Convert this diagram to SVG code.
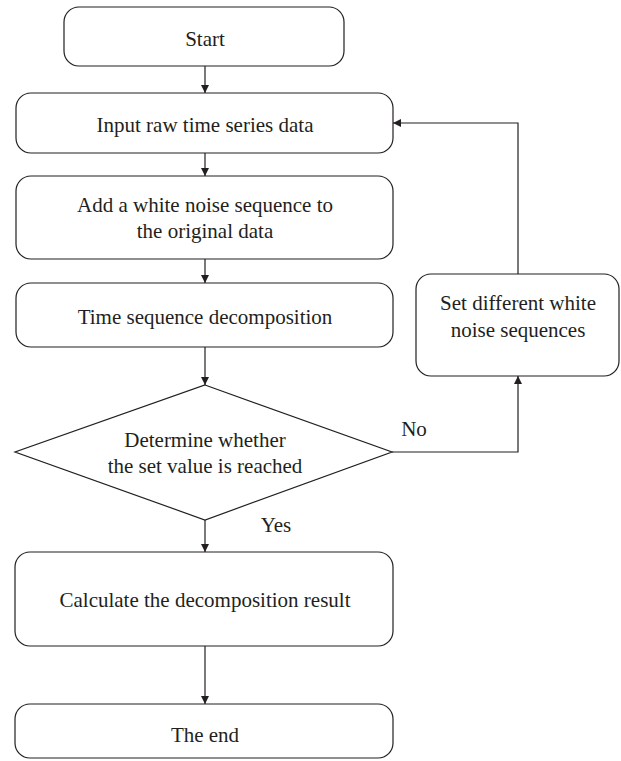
<svg xmlns="http://www.w3.org/2000/svg" width="621" height="761" viewBox="0 0 621 761">
<style>
.n{fill:#fff;stroke:#231f20;stroke-width:1.2}
.t{font-family:"Liberation Serif","Times New Roman",serif;font-size:21px;fill:#231f20;text-anchor:middle}
.c{fill:none;stroke:#231f20;stroke-width:1.2}
</style>
<defs>
<marker id="a" markerWidth="10" markerHeight="10" refX="8" refY="4" orient="auto" markerUnits="userSpaceOnUse">
<path d="M0,0 L8,4 L0,8 Z" fill="#231f20"/>
</marker>
</defs>
<rect width="621" height="761" fill="#fff"/>
<g id="connectors">
<line class="c" x1="205" y1="66" x2="205" y2="93" marker-end="url(#a)"/>
<line class="c" x1="205" y1="153" x2="205" y2="176" marker-end="url(#a)"/>
<line class="c" x1="205" y1="259" x2="205" y2="283" marker-end="url(#a)"/>
<line class="c" x1="205" y1="347" x2="205" y2="385" marker-end="url(#a)"/>
<line class="c" x1="205" y1="520" x2="205" y2="552" marker-end="url(#a)"/>
<line class="c" x1="205" y1="646" x2="205" y2="704" marker-end="url(#a)"/>
<polyline class="c" points="392,452 518,452 518,376" marker-end="url(#a)"/>
<polyline class="c" points="518,274 518,123 393,123" marker-end="url(#a)"/>
<text class="t" x="414" y="436">No</text>
<text class="t" x="276" y="532">Yes</text>
</g>
<g id="start"><rect class="n" x="64" y="7" width="280" height="59" rx="15"/><text class="t" x="205" y="46">Start</text></g>
<g id="input"><rect class="n" x="16" y="93" width="377" height="60" rx="15"/><text class="t" x="205" y="132">Input raw time series data</text></g>
<g id="add"><rect class="n" x="16" y="176" width="377" height="83" rx="15"/><text class="t" x="205" y="212">Add a white noise sequence to</text><text class="t" x="205" y="238">the original data</text></g>
<g id="decomp"><rect class="n" x="16" y="283" width="377" height="64" rx="15"/><text class="t" x="205" y="324">Time sequence decomposition</text></g>
<g id="decision"><polygon class="n" points="205,385 392,452 205,520 15,452"/><text class="t" x="205" y="447">Determine whether</text><text class="t" x="205" y="473">the set value is reached</text></g>
<g id="setnoise"><rect class="n" x="416" y="274" width="203" height="102" rx="15"/><text class="t" x="518" y="310">Set different white</text><text class="t" x="518" y="337">noise sequences</text></g>
<g id="calc"><rect class="n" x="15" y="552" width="378" height="94" rx="15"/><text class="t" x="205" y="607">Calculate the decomposition result</text></g>
<g id="end"><rect class="n" x="15" y="704" width="378" height="54" rx="15"/><text class="t" x="205" y="742">The end</text></g>
</svg>
